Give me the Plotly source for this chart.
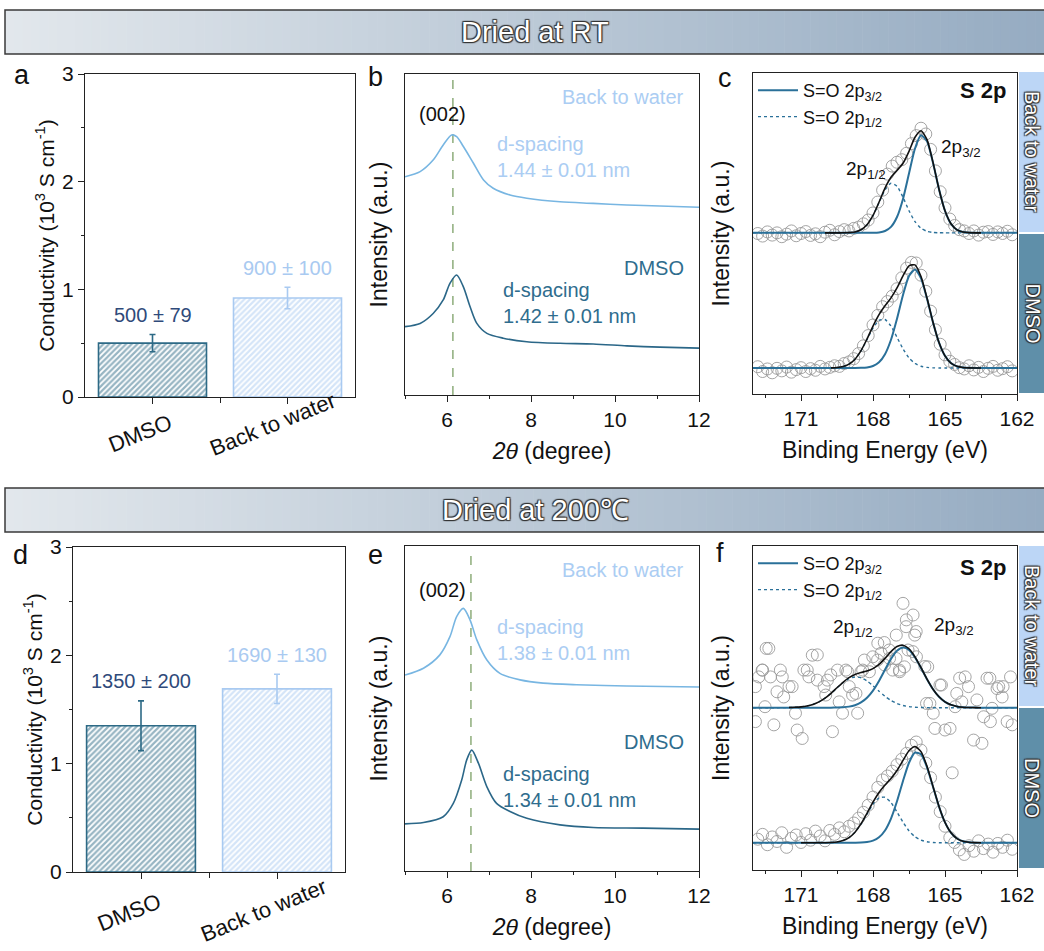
import plotly.graph_objects as go

W, H = 1044, 951
FONT = "Arial, 'Liberation Sans', Helvetica, sans-serif"


def px(x):
    return x / W


def py(y):
    return 1 - y / H


# ------------------------------------------------------------------ data
categories = ["DMSO", "Back to water"]
cond_rt = [0.50, 0.92]
cond_rt_err = [0.08, 0.10]
cond_rt_labels = ["500 ± 79", "900 ± 100"]
cond_200 = [1.35, 1.69]
cond_200_err = [0.23, 0.135]
cond_200_labels = ["1350 ± 200", "1690 ± 130"]

# XRD (2theta in degree, intensity in arbitrary offset units)
xrd_rt_water_x = [5.0, 5.36, 5.67, 5.91, 6.11, 6.23, 6.39, 6.63, 6.87, 7.10, 7.50, 7.90, 8.69, 9.48, 10.28, 11.07, 12.0]
xrd_rt_water_y = [6.80, 6.96, 7.32, 7.79, 8.10, 8.05, 7.74, 7.22, 6.70, 6.44, 6.23, 6.13, 6.02, 5.97, 5.92, 5.89, 5.85]
xrd_rt_dmso_x = [5.0, 5.36, 5.67, 5.91, 6.07, 6.23, 6.39, 6.55, 6.71, 6.95, 7.34, 7.90, 8.69, 9.48, 10.28, 11.07, 12.0]
xrd_rt_dmso_y = [2.13, 2.23, 2.54, 2.96, 3.48, 3.74, 3.37, 2.75, 2.23, 1.92, 1.77, 1.66, 1.61, 1.59, 1.53, 1.49, 1.46]
xrd_200_water_x = [5.0, 5.44, 5.83, 6.07, 6.23, 6.39, 6.55, 6.71, 6.95, 7.26, 7.74, 8.29, 9.08, 10.28, 12.0]
xrd_200_water_y = [6.03, 6.24, 6.65, 7.21, 7.83, 8.08, 7.72, 7.11, 6.49, 6.08, 5.88, 5.78, 5.73, 5.69, 5.66]
xrd_200_dmso_x = [5.0, 5.44, 5.91, 6.15, 6.35, 6.47, 6.59, 6.75, 6.95, 7.18, 7.50, 7.90, 8.69, 9.48, 10.67, 12.0]
xrd_200_dmso_y = [1.45, 1.49, 1.67, 2.08, 2.80, 3.42, 3.72, 3.31, 2.59, 2.08, 1.83, 1.62, 1.42, 1.34, 1.32, 1.29]
xrd_peak_rt = 6.14
xrd_peak_200 = 6.57
xrd_texts_rt = ["1.44 ± 0.01 nm", "1.42 ± 0.01 nm"]
xrd_texts_200 = ["1.38 ± 0.01 nm", "1.34 ± 0.01 nm"]

# XPS fitted components (height above baseline) on a common binding-energy grid
FIT_BE = [173.0, 172.0, 171.5, 171.25, 171.0, 170.75, 170.5, 170.25, 170.0, 169.75, 169.5, 169.25,
          169.0, 168.75, 168.5, 168.25, 168.0, 167.75, 167.5, 167.25, 167.0, 166.75, 166.5, 166.25,
          166.0, 165.75, 165.5, 165.25, 165.0, 164.75, 164.5, 164.25, 164.0, 163.75, 163.5, 163.0, 162.0]

c_water_base = 5.02
c_water_p32 = [0, 0, 0, 0, 0, 0, 0, 0, 0, 0, 0, 0, 0, 0, 0, 0, 0.003, 0.014, 0.058, 0.187, 0.494, 1.058,
               1.851, 2.629, 3.038, 2.855, 2.184, 1.357, 0.686, 0.282, 0.095, 0.026, 0.006, 0, 0, 0, 0]
c_water_p12 = [0, 0, 0, 0, 0, 0, 0, 0, 0, 0, 0, 0.002, 0.007, 0.029, 0.095, 0.251, 0.538, 0.941, 1.336,
               1.544, 1.451, 1.110, 0.690, 0.349, 0.143, 0.048, 0.013, 0.003, 0, 0, 0, 0, 0, 0, 0, 0, 0]
c_water_env = [170.0, 163.5]

c_dmso_base = 0.81
c_dmso_p32 = [0, 0, 0, 0, 0, 0, 0, 0, 0, 0, 0, 0, 0, 0, 0.005, 0.019, 0.063, 0.178, 0.430, 0.881, 1.535,
              2.275, 2.867, 3.070, 2.794, 2.161, 1.421, 0.792, 0.378, 0.152, 0.052, 0.015, 0.004, 0, 0, 0, 0]
c_dmso_p12 = [0, 0, 0, 0, 0, 0, 0, 0, 0.001, 0.004, 0.014, 0.044, 0.120, 0.274, 0.534, 0.884, 1.243,
              1.486, 1.510, 1.305, 0.958, 0.598, 0.317, 0.143, 0.055, 0.018, 0.005, 0.001, 0, 0, 0, 0,
              0, 0, 0, 0, 0]
c_dmso_env = [169.75, 163.5]

f_water_base = 5.01
f_water_p32 = [0, 0, 0, 0, 0, 0, 0, 0, 0, 0.001, 0.005, 0.013, 0.033, 0.077, 0.161, 0.306, 0.528, 0.825,
               1.170, 1.506, 1.757, 1.860, 1.785, 1.553, 1.227, 0.878, 0.570, 0.336, 0.180, 0.087, 0.038,
               0.015, 0.006, 0.002, 0, 0, 0]
f_water_p12 = [0, 0, 0.004, 0.011, 0.024, 0.052, 0.101, 0.180, 0.295, 0.443, 0.610, 0.771, 0.893, 0.948,
               0.924, 0.826, 0.677, 0.509, 0.351, 0.222, 0.129, 0.068, 0.033, 0.015, 0.006, 0.002, 0, 0,
               0, 0, 0, 0, 0, 0, 0, 0, 0]
f_water_env = [171.5, 163.5]

f_dmso_base = 0.84
f_dmso_p32 = [0, 0, 0, 0, 0, 0, 0, 0, 0, 0, 0, 0, 0, 0.002, 0.006, 0.022, 0.065, 0.168, 0.380, 0.748,
              1.281, 1.907, 2.471, 2.785, 2.731, 2.330, 1.730, 1.117, 0.628, 0.307, 0.131, 0.048, 0.016,
              0.004, 0, 0, 0]
f_dmso_p12 = [0, 0, 0, 0, 0, 0, 0, 0.001, 0.002, 0.008, 0.025, 0.068, 0.160, 0.325, 0.576, 0.887, 1.188,
              1.385, 1.404, 1.239, 0.951, 0.635, 0.369, 0.186, 0.082, 0.031, 0.010, 0.003, 0, 0, 0, 0,
              0, 0, 0, 0, 0]
f_dmso_env = [171.0, 163.5]

# XPS measured points
XPS_BE_GRID = [172.8, 172.6, 172.4, 172.2, 172.0, 171.8, 171.6, 171.4, 171.2, 171.0, 170.8, 170.6, 170.4,
               170.2, 170.0, 169.8, 169.6, 169.4, 169.2, 169.0, 168.8, 168.6, 168.4, 168.2, 168.0, 167.8,
               167.6, 167.4, 167.2, 167.0, 166.8, 166.6, 166.4, 166.2, 166.0, 165.8, 165.6, 165.4, 165.2,
               165.0, 164.8, 164.6, 164.4, 164.2, 164.0, 163.8, 163.6, 163.4, 163.2, 163.0, 162.8, 162.6,
               162.4, 162.2]
c_water_pts = [5.00, 4.92, 5.05, 4.95, 5.02, 4.90, 4.98, 5.08, 4.93, 5.00, 5.06, 4.94, 4.99, 4.90, 5.04,
               5.10, 4.96, 5.06, 5.12, 5.08,
               5.16, 5.20, 5.30, 5.42, 5.64, 5.98, 6.35, 6.85, 7.10, 7.22, 7.30, 7.50, 7.80, 8.05, 8.28,
               8.10, 7.62, 6.95, 6.30, 5.80, 5.45, 5.25, 5.12, 5.08,
               5.00, 5.08, 4.95, 5.04, 5.06, 4.97, 5.05, 5.00, 5.07, 4.96]
c_dmso_pts = [0.85, 0.70, 0.78, 0.66, 0.80, 0.72, 0.84, 0.68, 0.76, 0.82, 0.70, 0.79, 0.74, 0.86, 0.78,
              0.83, 0.88, 0.86, 0.95, 1.00,
              1.10, 1.26, 1.50, 1.82, 2.15, 2.45, 2.72, 2.88, 3.05, 3.28, 3.62, 3.92, 4.10, 4.08, 3.70,
              3.20, 2.58, 2.00, 1.55, 1.22, 1.02, 0.92, 0.82, 0.78,
              0.88, 0.75, 0.83, 0.70, 0.80, 0.86, 0.74, 0.79, 0.85, 0.72]
f_dmso_be = XPS_BE_GRID + [164.7]
f_dmso_pts = [0.95, 1.10, 0.78, 1.02, 0.88, 1.15, 0.70, 0.98, 1.08, 0.85, 1.12, 0.92, 1.20, 1.05, 0.90,
              1.22, 1.10, 1.30, 1.18, 1.35,
              1.45, 1.60, 1.78, 2.00, 2.25, 2.55, 2.78, 2.90, 3.05, 3.25, 3.42, 3.60, 3.85, 3.95, 3.70,
              3.30, 2.85, 2.25, 1.80, 1.35, 1.00, 0.85, 0.62, 0.48,
              0.75, 0.58, 0.90, 0.66, 0.80, 0.55, 0.82, 0.70, 0.92, 0.64, 3.00]
f_water_be = [172.9, 172.9, 172.76, 172.6, 172.5, 172.45, 172.27, 172.13, 172.0, 171.86, 171.78, 171.72,
              171.37, 171.23, 171.16, 170.95, 170.88, 170.67, 170.53, 170.32, 170.04, 169.76, 169.69,
              169.48, 169.41, 169.27, 169.06, 168.99, 168.85, 168.64, 168.5, 168.36, 168.15, 168.01,
              167.8, 167.66, 167.52, 167.31, 167.03, 166.89, 166.75, 166.61, 166.54, 166.33, 166.26,
              166.19, 165.84, 165.77, 165.63, 165.49, 165.42, 165.21, 165.0, 164.79, 164.58, 164.51,
              164.3, 164.16, 164.02, 163.81, 163.67, 163.46, 163.39, 163.25, 163.11, 163.04, 162.83,
              162.76, 162.62, 162.41, 162.27, 162.2,
              167.53, 167.32, 167.81, 168.43, 169.13, 169.9, 167.18, 166.9, 167.04, 166.69, 166.34,
              165.72, 165.15, 164.39, 163.13, 162.58, 172.34, 172.62, 171.5, 170.74, 170.32, 169.97,
              168.71, 166.62, 166.2]
f_water_pts = [4.58, 5.66, 5.96, 6.17, 5.04, 6.84, 5.96, 4.48, 5.50, 6.17, 5.96, 5.34,
               5.66, 4.84, 4.32, 4.06, 6.17, 5.96, 6.63, 5.86, 5.66, 6.02, 4.27,
               6.17, 5.19, 4.84, 6.12, 5.66, 5.40, 4.84, 6.12, 6.48, 6.12, 6.58,
               7.00, 6.69, 6.33, 6.53, 7.25, 6.12, 8.23, 7.72, 6.79, 7.87, 7.25,
               6.58, 6.28, 5.14, 5.14, 4.84, 4.37, 5.71, 4.32, 4.37, 5.04, 5.45,
               5.19, 5.96, 5.66, 4.01, 5.25, 3.91, 4.73, 5.92, 4.58, 4.99, 5.60,
               5.66, 5.34, 4.58, 5.96, 4.48,
               7.02, 6.79, 6.48, 6.17, 6.17, 5.86, 6.17, 6.17, 6.53, 6.27, 6.74,
               6.27, 5.71, 5.92, 5.92, 5.66, 6.84, 6.17, 5.66, 6.17, 6.64, 5.40,
               5.45, 7.51, 7.36]

# ------------------------------------------------------------------ colours
C_DMSO = "#2d6a86"
C_WATER = "#a9caf1"
C_BARTXT_DMSO = "#2f4a7a"
C_XRD_DMSO = "#2b6788"
C_XRD_WATER = "#78b6e2"
C_TXT_DMSO = "#2f6d8e"
C_TXT_WATER = "#abcdf3"
C_FIT = "#2a7099"
C_DASH = "#95b283"
C_PTS = "#9a9a9a"
AX = "#222222"

fig = go.Figure()


def dom(x0, x1, y0, y1):
    return [px(x0), px(x1)], [py(y1), py(y0)]


panels = {
    "1": dom(85, 355, 74, 397),
    "2": dom(405, 699, 74, 395),
    "3": dom(753, 1017, 73, 394),
    "4": dom(73, 345, 547, 872),
    "5": dom(405, 699, 546, 871),
    "6": dom(753, 1017, 546, 870),
}

TF = dict(size=21, family=FONT, color="#111")
TT = dict(size=23, family=FONT, color="#111")
base_axis = dict(showline=True, mirror=True, linecolor=AX, linewidth=1.3, showgrid=False,
                 zeroline=False, tickfont=TF, automargin=False,
                 ticks="outside", ticklen=6, tickwidth=1.2, tickcolor=AX)

for k, (xd, yd) in panels.items():
    xa = dict(base_axis, domain=xd, anchor="y" + ("" if k == "1" else k))
    ya = dict(base_axis, domain=yd, anchor="x" + ("" if k == "1" else k))
    if k in ("1", "4"):
        xa.update(type="category", range=[-0.5, 1.5], showticklabels=False,
                  minor=dict(ticks="outside", ticklen=5, tickvals=[0.5], tickcolor=AX))
        ya.update(range=[0, 3], tickvals=[0, 1, 2, 3],
                  minor=dict(ticks="outside", ticklen=3, tickvals=[0.5, 1.5, 2.5], tickcolor=AX),
                  title=dict(text="Conductivity (10<sup>3</sup> S cm<sup>-1</sup>)",
                             font=dict(TF, size=21), standoff=1))
    elif k in ("2", "5"):
        xa.update(range=[5, 12], tickvals=[6, 8, 10, 12],
                  minor=dict(ticks="outside", ticklen=3, tickvals=[5, 7, 9, 11], tickcolor=AX),
                  title=dict(text="<i>2θ</i> (degree)", font=TT, standoff=12))
        ya.update(range=[0, 10], showticklabels=False, ticks="",
                  title=dict(text="Intensity (a.u.)", font=TT, standoff=9))
    else:
        xa.update(range=[173, 162], tickvals=[171, 168, 165, 162],
                  minor=dict(ticks="outside", ticklen=3, tickvals=[172.5, 169.5, 166.5, 163.5],
                             tickcolor=AX),
                  title=dict(text="Binding Energy (eV)", font=TT, standoff=12))
        ya.update(range=[0, 10], showticklabels=False, ticks="",
                  title=dict(text="Intensity (a.u.)", font=TT, standoff=15))
    fig.layout["xaxis" + ("" if k == "1" else k)] = xa
    fig.layout["yaxis" + ("" if k == "1" else k)] = ya

annotations = []
shapes = []


def ax_ids(k):
    return ("x" + ("" if k == "1" else k), "y" + ("" if k == "1" else k))


def paper_text(x, y, text, size, color="#111", **kw):
    d = dict(x=px(x), y=py(y), xref="paper", yref="paper", text=text, showarrow=False,
             xanchor="center", yanchor="middle", font=dict(size=size, color=color, family=FONT))
    d.update(kw)
    return d


# ------------------------------------------------------------------ bars
for k, vals, errs, labels, lab_pos in (
        ("1", cond_rt, cond_rt_err, cond_rt_labels, [(140, 433), (272, 424)]),
        ("4", cond_200, cond_200_err, cond_200_labels, [(129, 912), (263, 910)])):
    xr, yr = ax_ids(k)
    for cat, v, e, lab, col, tcol, lp in zip(categories, vals, errs, labels,
                                             [C_DMSO, C_WATER], [C_BARTXT_DMSO, C_WATER], lab_pos):
        fig.add_trace(go.Bar(
            x=[cat], y=[v], width=0.8, xaxis=xr, yaxis=yr, showlegend=False,
            marker=dict(color="white", line=dict(color=col, width=1.6),
                        pattern=dict(shape="/", fgcolor=col, bgcolor="white", size=4, solidity=0.55)),
            error_y=dict(type="data", array=[e], color=col, thickness=1.6, width=3)))
        annotations.append(dict(x=cat, y=v + e + 0.18, xref=xr, yref=yr, text=lab, showarrow=False,
                                xanchor="center", yanchor="middle",
                                font=dict(size=20, color=tcol, family=FONT)))
        # category tick label (rotated)
        annotations.append(paper_text(lp[0], lp[1], cat, 22, textangle=-22))

# ------------------------------------------------------------------ XRD
for k, wx, wy, dx, dy, pk, txts in (
        ("2", xrd_rt_water_x, xrd_rt_water_y, xrd_rt_dmso_x, xrd_rt_dmso_y, xrd_peak_rt, xrd_texts_rt),
        ("5", xrd_200_water_x, xrd_200_water_y, xrd_200_dmso_x, xrd_200_dmso_y, xrd_peak_200, xrd_texts_200)):
    xr, yr = ax_ids(k)
    fig.add_trace(go.Scatter(x=[pk, pk], y=[0, 9.9], mode="lines", xaxis=xr, yaxis=yr, showlegend=False,
                             line=dict(color=C_DASH, width=1.6, dash="dash")))
    fig.add_trace(go.Scatter(x=wx, y=wy, mode="lines", xaxis=xr, yaxis=yr, showlegend=False,
                             line=dict(color=C_XRD_WATER, width=1.6, shape="spline", smoothing=0.8)))
    fig.add_trace(go.Scatter(x=dx, y=dy, mode="lines", xaxis=xr, yaxis=yr, showlegend=False,
                             line=dict(color=C_XRD_DMSO, width=1.6, shape="spline", smoothing=0.8)))
    top = 8.75 if k == "2" else 8.65
    common = dict(xref=xr, yref=yr, showarrow=False, yanchor="middle")
    annotations += [
        dict(common, x=5.9, y=top, text="(002)", xanchor="center",
             font=dict(size=20, color="#111", family=FONT)),
        dict(common, x=11.69, y=9.27, text="Back to water", xanchor="right",
             font=dict(size=20, color=C_TXT_WATER, family=FONT)),
        dict(common, x=7.14, y=7.41 if k == "2" else 7.12, text="d-spacing<br>" + txts[0],
             xanchor="left", align="left", font=dict(size=20, color=C_TXT_WATER, family=FONT)),
        dict(common, x=11.69, y=3.97, text="DMSO", xanchor="right",
             font=dict(size=20, color=C_TXT_DMSO, family=FONT)),
        dict(common, x=7.28, y=2.86 if k == "2" else 2.58, text="d-spacing<br>" + txts[1],
             xanchor="left", align="left", font=dict(size=20, color=C_TXT_DMSO, family=FONT)),
    ]


# ------------------------------------------------------------------ XPS
def add_xps(k, be, pts, base, p32, p12, env_rng, legend_name, show_legend):
    xr, yr = ax_ids(k)
    fig.add_trace(go.Scatter(x=be, y=pts, mode="markers", xaxis=xr, yaxis=yr, showlegend=False,
                             marker=dict(symbol="circle-open", size=12, color=C_PTS,
                                         line=dict(width=0.9, color=C_PTS))))
    fig.add_trace(go.Scatter(x=FIT_BE, y=[base + v for v in p12], mode="lines", xaxis=xr, yaxis=yr,
                             name="S=O 2p<sub>1/2</sub>", legend=legend_name, showlegend=show_legend,
                             legendgroup="b", legendrank=2,
                             line=dict(color=C_FIT, width=1.4, dash="dot", shape="spline", smoothing=0.6)))
    fig.add_trace(go.Scatter(x=FIT_BE, y=[base + v for v in p32], mode="lines", xaxis=xr, yaxis=yr,
                             name="S=O 2p<sub>3/2</sub>", legend=legend_name, showlegend=show_legend,
                             legendgroup="a", legendrank=1,
                             line=dict(color=C_FIT, width=2, shape="spline", smoothing=0.6)))
    ex, ey = [], []
    for x, a, b in zip(FIT_BE, p32, p12):
        if env_rng[1] <= x <= env_rng[0]:
            ex.append(x)
            ey.append(base + a + b)
    fig.add_trace(go.Scatter(x=ex, y=ey, mode="lines", xaxis=xr, yaxis=yr, showlegend=False,
                             line=dict(color="#111111", width=1.6, shape="spline", smoothing=0.6)))


add_xps("3", XPS_BE_GRID, c_water_pts, c_water_base, c_water_p32, c_water_p12, c_water_env, "legend2", True)
add_xps("3", XPS_BE_GRID, c_dmso_pts, c_dmso_base, c_dmso_p32, c_dmso_p12, c_dmso_env, "legend2", False)
add_xps("6", f_water_be, f_water_pts, f_water_base, f_water_p32, f_water_p12, f_water_env, "legend3", True)
add_xps("6", f_dmso_be, f_dmso_pts, f_dmso_base, f_dmso_p32, f_dmso_p12, f_dmso_env, "legend3", False)

for k, t1, t2 in (("3", (169.2, 6.98), (165.23, 7.66)), ("6", (169.74, 7.47), (165.56, 7.53))):
    xr, yr = ax_ids(k)
    annotations += [
        dict(x=t1[0], y=t1[1], xref=xr, yref=yr, text="2p<sub>1/2</sub>", showarrow=False, xanchor="left",
             yanchor="middle", font=dict(size=19, color="#111", family=FONT)),
        dict(x=t2[0], y=t2[1], xref=xr, yref=yr, text="2p<sub>3/2</sub>", showarrow=False, xanchor="left",
             yanchor="middle", font=dict(size=19, color="#111", family=FONT)),
    ]

for yc in (91, 567):
    annotations.append(paper_text(1008, yc, "<b>S 2p</b>", 22, xanchor="right"))

# side strips
OUT = "1px 1px 1px #333, -1px -1px 1px #333, 1px -1px 1px #333, -1px 1px 1px #333"
for (y0, y1, col, txt) in ((72, 232, "#bcd6f6", "Back to water"), (234, 393, "#5f8fa9", "DMSO"),
                           (546, 706, "#bcd6f6", "Back to water"), (708, 868, "#5f8fa9", "DMSO")):
    shapes.append(dict(type="rect", xref="paper", yref="paper", x0=px(1019), x1=1.0, y0=py(y1), y1=py(y0),
                       fillcolor=col, line=dict(width=0), layer="below"))
    a = paper_text(1032, (y0 + y1) / 2, txt, 20, "white", textangle=90)
    a["font"]["shadow"] = OUT
    annotations.append(a)

# banners (horizontal gradient)
c_left = (0xe2, 0xe7, 0xec)
c_right = (0x96, 0xac, 0xc2)
N = 120
for (y0, y1, txt) in ((10, 54, "Dried at RT"), (488, 532, "Dried at 200℃")):
    x_start, x_end = 5, 1044
    for i in range(N):
        t = i / (N - 1)
        r, g, b = (round(c_left[j] + (c_right[j] - c_left[j]) * t) for j in range(3))
        xa0 = x_start + (x_end - x_start) * i / N
        xa1 = x_start + (x_end - x_start) * (i + 1) / N + 0.6
        shapes.append(dict(type="rect", xref="paper", yref="paper", x0=px(xa0), x1=px(min(xa1, W)),
                           y0=py(y1), y1=py(y0), fillcolor=f"rgb({r},{g},{b})", line=dict(width=0),
                           layer="below"))
    shapes.append(dict(type="rect", xref="paper", yref="paper", x0=px(x_start), x1=px(W + 2),
                       y0=py(y1), y1=py(y0), line=dict(color="#3a3a3a", width=1.5)))
    a = paper_text(535, (y0 + y1) / 2, txt, 29, "white")
    a["font"]["shadow"] = OUT
    a["font"]["family"] = "'Liberation Sans Narrow', " + FONT
    annotations.append(a)

# panel letters
for (lx, ly, t) in ((22, 75, "a"), (375, 77, "b"), (725, 78, "c"), (20, 555, "d"), (375, 555, "e"),
                    (720, 553, "f")):
    annotations.append(paper_text(lx, ly, t, 27))

legend_common = dict(bgcolor="rgba(0,0,0,0)", borderwidth=0, font=dict(size=18, family=FONT, color="#111"),
                     xanchor="left", yanchor="top", itemwidth=40, traceorder="grouped", tracegroupgap=0)

fig.update_layout(
    width=W, height=H, margin=dict(l=0, r=0, t=0, b=0, autoexpand=False),
    paper_bgcolor="white", plot_bgcolor="rgba(0,0,0,0)",
    font=dict(family=FONT, color="#111"),
    barmode="overlay",
    showlegend=True,
    legend2=dict(legend_common, x=px(753), y=py(72)),
    legend3=dict(legend_common, x=px(753), y=py(545)),
    annotations=annotations,
    shapes=shapes,
)

fig.write_html("out.html")
